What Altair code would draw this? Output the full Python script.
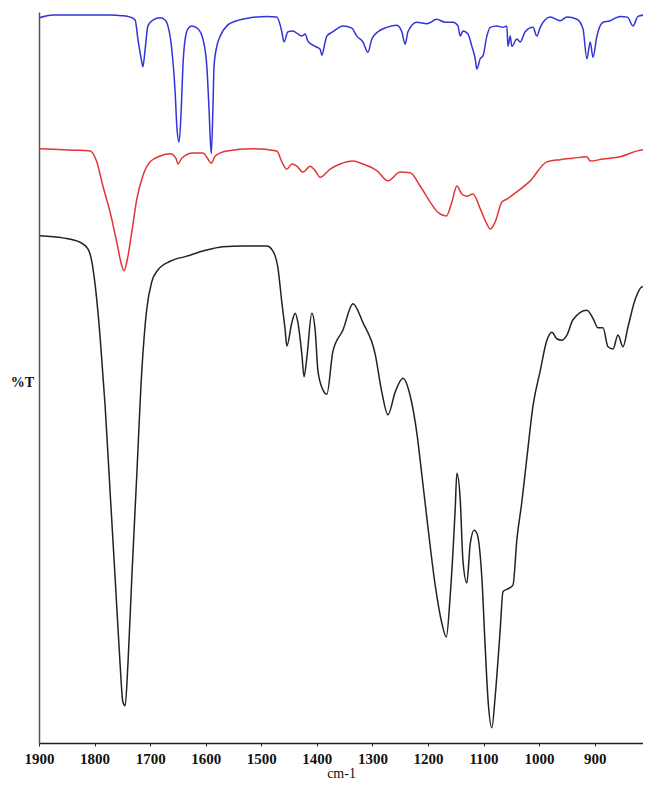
import altair as alt
import pandas as pd

# Wavenumber (cm-1) and %T readings for the three spectra
blue_wn = [1900, 1875, 1772, 1751, 1736, 1727, 1722, 1716, 1713, 1709, 1704, 1695, 1682, 1673, 1668,
           1661, 1655, 1652, 1648, 1644, 1641, 1637, 1632, 1625, 1614, 1605, 1598, 1594, 1590, 1587,
           1585, 1580, 1574, 1562, 1544, 1520, 1490, 1472, 1463, 1459, 1452, 1443, 1434, 1427, 1421,
           1416, 1403, 1394, 1391, 1385, 1382, 1371, 1353, 1337, 1328, 1317, 1308, 1301, 1290, 1274,
           1256, 1247, 1241, 1236, 1220, 1202, 1184, 1169, 1155, 1146, 1142, 1137, 1128, 1121, 1115,
           1112, 1106, 1101, 1094, 1088, 1076, 1065, 1058, 1056, 1052, 1049, 1040, 1034, 1025, 1011,
           1004, 998, 980, 962, 950, 932, 921, 914, 908, 903, 896, 885, 872, 867, 854, 841, 831, 822, 800]
blue_t = [99.2, 99.6, 99.6, 99.5, 99.3, 98.9, 96.3, 93.6, 92.5, 94.9, 98.1, 98.9, 99.2, 98.9, 98.1,
          94.9, 89.1, 84.4, 82.2, 86.7, 92.6, 96.3, 97.7, 98.1, 97.7, 96.3, 92.6, 86.7, 80.6, 86.7,
          92.6, 95.3, 96.7, 98.1, 98.8, 99.2, 99.4, 99.3, 97.3, 95.9, 97.3, 97.4, 97.0, 96.7, 97.0,
          96.0, 95.3, 94.9, 94.1, 95.9, 96.7, 97.3, 98.1, 97.8, 96.7, 95.9, 94.5, 96.3, 97.3, 97.9,
          98.2, 97.3, 95.6, 97.3, 98.6, 98.4, 99.0, 98.6, 98.6, 98.1, 96.7, 97.4, 97.0, 95.3, 93.6,
          92.2, 93.6, 94.0, 96.7, 97.9, 98.1, 97.9, 98.1, 95.3, 96.7, 95.3, 96.3, 95.9, 97.3, 97.9,
          96.7, 97.9, 99.3, 98.8, 99.3, 99.0, 97.7, 93.6, 95.9, 93.8, 96.7, 98.6, 98.8, 99.0, 99.4,
          99.3, 98.1, 99.4, 99.7]

red_wn = [1900, 1839, 1808, 1796, 1785, 1772, 1760, 1751, 1747, 1742, 1733, 1724, 1713, 1700, 1682,
          1664, 1653, 1650, 1643, 1623, 1605, 1596, 1590, 1583, 1562, 1515, 1472, 1463, 1454, 1445,
          1436, 1425, 1412, 1403, 1394, 1376, 1358, 1335, 1317, 1292, 1272, 1250, 1232, 1214, 1196,
          1182, 1167, 1157, 1148, 1139, 1130, 1119, 1106, 1094, 1088, 1079, 1067, 1058, 1040, 1016,
          986, 962, 939, 914, 908, 885, 854, 823, 800]
red_t = [81.3, 81.1, 81.0, 79.5, 76.2, 72.6, 68.5, 65.3, 64.6, 65.8, 69.9, 74.4, 77.6, 79.5, 80.3,
         80.6, 79.9, 79.2, 80.0, 80.7, 80.7, 79.9, 79.3, 80.3, 81.0, 81.3, 81.0, 79.5, 78.5, 79.2,
         78.9, 78.1, 78.9, 78.3, 77.4, 78.5, 79.2, 79.6, 79.2, 78.3, 76.9, 78.1, 78.0, 76.2, 74.0,
         72.6, 72.1, 74.0, 76.2, 75.1, 74.8, 75.1, 73.1, 71.0, 70.3, 71.3, 74.0, 74.4, 75.4, 76.9,
         79.5, 79.8, 80.0, 80.2, 79.6, 79.9, 80.2, 81.0, 81.3]

black_wn = [1898, 1857, 1826, 1812, 1805, 1799, 1790, 1781, 1772, 1763, 1754, 1749, 1745, 1740, 1733,
            1724, 1715, 1706, 1697, 1686, 1664, 1634, 1605, 1569, 1533, 1490, 1479, 1470, 1463, 1457,
            1454, 1445, 1439, 1434, 1427, 1423, 1418, 1409, 1403, 1398, 1389, 1382, 1371, 1353, 1335,
            1317, 1295, 1283, 1272, 1259, 1245, 1232, 1220, 1211, 1200, 1187, 1175, 1167, 1160, 1151,
            1148, 1142, 1137, 1130, 1124, 1117, 1112, 1103, 1097, 1092, 1085, 1079, 1070, 1065, 1056,
            1047, 1040, 1031, 1022, 1011, 998, 986, 977, 968, 959, 950, 939, 914, 903, 894, 885, 876,
            867, 858, 849, 840, 827, 814, 800]
black_t = [69.4, 69.1, 68.5, 67.6, 65.9, 62.7, 55.5, 46.1, 34.3, 22.6, 10.7, 5.6, 5.1, 10.7, 22.6,
           36.7, 50.9, 59.4, 63.1, 64.7, 65.9, 66.6, 67.3, 67.9, 68.0, 68.0, 67.3, 65.0, 60.3, 56.5,
           54.3, 57.5, 58.8, 57.5, 53.2, 50.1, 52.7, 58.8, 56.5, 50.9, 48.3, 47.7, 53.6, 56.5, 60.1,
           57.5, 53.2, 48.0, 44.9, 48.0, 49.9, 47.5, 42.4, 36.7, 29.5, 21.6, 16.4, 14.5, 20.1, 32.0,
           36.9, 33.4, 24.9, 21.9, 27.2, 29.1, 28.7, 22.6, 13.1, 6.0, 2.1, 6.4, 15.5, 20.7, 21.1,
           21.6, 27.8, 33.0, 39.0, 46.1, 50.9, 55.1, 56.2, 55.3, 55.1, 55.8, 57.9, 59.2, 58.1, 56.8,
           56.8, 54.2, 53.9, 55.8, 54.2, 56.9, 60.7, 62.4, 62.1]

tick_values = [1900, 1800, 1700, 1600, 1500, 1400, 1300, 1200, 1100, 1000, 900]
series_names = ["blue", "red", "black"]
series_colors = ["#3333d9", "#e23535", "#222222"]

rows = []
for name, wns, ts in [("blue", blue_wn, blue_t), ("red", red_wn, red_t), ("black", black_wn, black_t)]:
    for w, t in zip(wns, ts):
        rows.append({"series": name, "wn": w, "T": t})
df = pd.DataFrame(rows)

FONT = "Liberation Serif"

chart = alt.Chart(df).mark_line(strokeWidth=1.5, interpolate="monotone", clip=True).encode(
    x=alt.X("wn:Q",
            scale=alt.Scale(domain=[813, 1900], reverse=True, nice=False, zero=False),
            axis=alt.Axis(values=tick_values, format="d", title="cm-1", grid=False, tickSize=3,
                          labelFont=FONT, labelFontSize=15, labelFontWeight="bold",
                          labelColor="#111", labelPadding=5, labelFlush=False,
                          titleFont=FONT, titleFontSize=14, titleFontWeight="normal",
                          titleColor="#111", titlePadding=0,
                          domainColor="#222", domainWidth=1.5, tickColor="#222")),
    y=alt.Y("T:Q",
            scale=alt.Scale(domain=[0, 100], nice=False, zero=False),
            axis=alt.Axis(title="%T", labels=False, ticks=False, grid=False,
                          domainColor="#555", domainWidth=1.5,
                          titleAngle=0, titleX=-17, titleY=370, titleAlign="center",
                          titleBaseline="middle", titleFont=FONT, titleFontSize=14,
                          titleFontWeight="bold", titleColor="#111")),
    color=alt.Color("series:N", scale=alt.Scale(domain=series_names, range=series_colors), legend=None),
    detail="series:N",
).properties(
    width=604, height=731,
    autosize=alt.AutoSizeParams(type="none"),
    padding={"left": 31, "top": 4, "right": 0, "bottom": 38},
).configure_view(stroke=None)

chart.save("out.html", embed_options={"renderer": "svg", "actions": False})
